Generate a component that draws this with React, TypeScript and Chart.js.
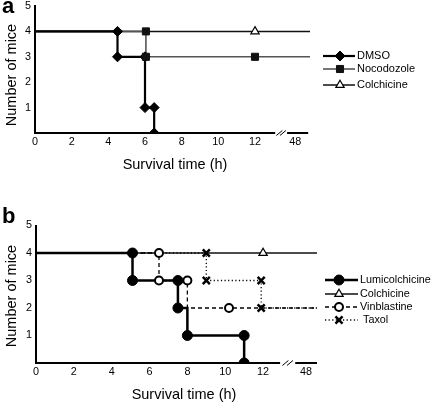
import React, { useEffect, useRef } from 'react';
import { Chart, registerables } from 'chart.js';
import { drawPoint } from 'chart.js/helpers';

Chart.register(...registerables);

const FONT = '"Liberation Sans", Arial, Helvetica, sans-serif';

// end of observation (just beyond 48 h, past the axis break)
const END = 50;

// axis ticks
const xTickValues = [0, 2, 4, 6, 8, 10, 12, 48];
const xTickLabels = ['0', '2', '4', '6', '8', '10', '12', '48'];
const yTickValues = [1, 2, 3, 4, 5];
const yTickLabels = ['1', '2', '3', '4', '5'];

// ---------- Panel a ----------
const dmsoTimes = [0, 4.5, 6, 6.5];
const dmsoMice = [4, 3, 1, 0];
const dmsoMarkTimes = [4.5, 4.5, 6, 6, 6.5, 6.5];
const dmsoMarkMice = [4, 3, 3, 1, 1, 0];

const nocoTimes = [0, 6.05, END];
const nocoMice = [4, 3, 3];
const nocoMarkTimes = [6.05, 6.05, 12];
const nocoMarkMice = [4, 3, 3];

const colchATimes = [0, END];
const colchAMice = [4, 4];
const colchAMarkTimes = [12];
const colchAMarkMice = [4];

// ---------- Panel b ----------
const lumiTimes = [0, 5.1, 7.5, 8, 11];
const lumiMice = [4, 3, 2, 1, 0];
const lumiMarkTimes = [5.1, 5.1, 7.5, 7.5, 8, 11, 11];
const lumiMarkMice = [4, 3, 3, 2, 1, 1, 0];

const colchBTimes = [0, END];
const colchBMice = [4, 4];
const colchBMarkTimes = [12];
const colchBMarkMice = [4];

const vinTimes = [0, 6.5, 8, END];
const vinMice = [4, 3, 2, 2];
const vinMarkTimes = [6.5, 6.5, 8, 10.2];
const vinMarkMice = [4, 3, 3, 2];

const taxTimes = [0, 9, 11.9, END];
const taxMice = [4, 3, 2, 2];
const taxMarkTimes = [9, 9, 11.9, 11.9];
const taxMarkMice = [4, 3, 3, 2];

type Pt = { x: number; y: number };

function makeMapX(pos48: number, xMax: number) {
  return (t: number) => (t <= 13 ? t : pos48 + ((t - 48) / (END - 48)) * (xMax - pos48));
}

function stepPoints(times: number[], mice: number[], mapX: (t: number) => number): Pt[] {
  const pts: Pt[] = [{ x: mapX(times[0]), y: mice[0] }];
  for (let i = 1; i < times.length; i++) {
    pts.push({ x: mapX(times[i]), y: mice[i - 1] });
    if (mice[i] !== mice[i - 1]) pts.push({ x: mapX(times[i]), y: mice[i] });
  }
  return pts;
}

function markPoints(times: number[], mice: number[], mapX: (t: number) => number): Pt[] {
  return times.map((t, i) => ({ x: mapX(t), y: mice[i] }));
}

type MarkerStyle = {
  pointStyle: string;
  radius: number;
  fill: string;
  stroke: string;
  borderWidth: number;
};

type LineStyle = { color: string; width: number; dash: number[] };

function lineDS(points: Pt[], ls: LineStyle, order: number) {
  return {
    data: points,
    showLine: true,
    borderColor: ls.color,
    borderWidth: ls.width,
    borderDash: ls.dash,
    borderCapStyle: 'butt',
    pointRadius: 0,
    pointHoverRadius: 0,
    fill: false,
    tension: 0,
    order,
  };
}

function markerDS(points: Pt[], ms: MarkerStyle) {
  return {
    data: points,
    showLine: false,
    pointStyle: ms.pointStyle,
    pointRadius: ms.radius,
    pointHoverRadius: ms.radius,
    pointBackgroundColor: ms.fill,
    pointBorderColor: ms.stroke,
    pointBorderWidth: ms.borderWidth,
    order: 0,
  };
}

type LegendItem = { label: string; line: LineStyle; marker: MarkerStyle; textDx?: number };

type PanelCfg = {
  width: number;
  height: number;
  areaLeft: number;
  areaRight: number;
  areaTop: number;
  areaBottom: number;
  xMax: number;
  pos48: number;
  breakFrom: number;
  breakTo: number;
  axisEnd: number;
  letter: string;
  letterX: number;
  letterY: number;
  yTitleX: number;
  yTitleY: number;
  xTitleX: number;
  xTitleY: number;
  legendSegX0: number;
  legendSegX1: number;
  legendMarkX: number;
  legendTextX: number;
  legendYs: number[];
  legendFont: number;
  titleFont: number;
  legend: LegendItem[];
  datasets: (mapX: (t: number) => number) => any[];
};

// styles
const sDmsoLine: LineStyle = { color: '#000', width: 2.2, dash: [] };
const sDmsoMark: MarkerStyle = { pointStyle: 'rectRot', radius: 5, fill: '#000', stroke: '#000', borderWidth: 1 };
const sNocoLine: LineStyle = { color: '#555', width: 1.6, dash: [] };
const sNocoMark: MarkerStyle = { pointStyle: 'rect', radius: 5, fill: '#111', stroke: '#111', borderWidth: 1 };
const sColchLine: LineStyle = { color: '#111', width: 1.5, dash: [] };
const sColchMark: MarkerStyle = { pointStyle: 'triangle', radius: 4.8, fill: '#fff', stroke: '#000', borderWidth: 1.2 };
const sLumiLine: LineStyle = { color: '#000', width: 2.5, dash: [] };
const sLumiMark: MarkerStyle = { pointStyle: 'circle', radius: 5, fill: '#000', stroke: '#000', borderWidth: 1 };
const sVinLine: LineStyle = { color: '#000', width: 1.3, dash: [4, 3] };
const sVinMark: MarkerStyle = { pointStyle: 'circle', radius: 4, fill: '#fff', stroke: '#000', borderWidth: 2 };
const sTaxLine: LineStyle = { color: '#000', width: 1.3, dash: [1.2, 2.4] };
const sTaxMark: MarkerStyle = { pointStyle: 'crossRot', radius: 5, fill: '#000', stroke: '#000', borderWidth: 2.5 };

const panelA: PanelCfg = {
  width: 435,
  height: 195,
  areaLeft: 35,
  areaRight: 310,
  areaTop: 5,
  areaBottom: 133,
  xMax: 15,
  pos48: 14.2,
  breakFrom: 13.1,
  breakTo: 13.75,
  axisEnd: 14.9,
  letter: 'a',
  letterX: 2,
  letterY: 13,
  yTitleX: 11.5,
  yTitleY: 75,
  xTitleX: 175,
  xTitleY: 165,
  legendSegX0: 323,
  legendSegX1: 355,
  legendMarkX: 340,
  legendTextX: 357,
  legendYs: [56, 69, 85],
  legendFont: 11,
  titleFont: 14.5,
  legend: [
    { label: 'DMSO', line: sDmsoLine, marker: sDmsoMark },
    { label: 'Nocodozole', line: sNocoLine, marker: sNocoMark },
    { label: 'Colchicine', line: sColchLine, marker: sColchMark },
  ],
  datasets: (mapX) => [
    markerDS(markPoints(nocoMarkTimes, nocoMarkMice, mapX), sNocoMark),
    markerDS(markPoints(dmsoMarkTimes, dmsoMarkMice, mapX), sDmsoMark),
    markerDS(markPoints(colchAMarkTimes, colchAMarkMice, mapX), sColchMark),
    lineDS(stepPoints(dmsoTimes, dmsoMice, mapX), sDmsoLine, 1),
    lineDS(stepPoints(nocoTimes, nocoMice, mapX), sNocoLine, 2),
    lineDS(stepPoints(colchATimes, colchAMice, mapX), sColchLine, 3),
  ],
};

const panelB: PanelCfg = {
  width: 435,
  height: 224,
  areaLeft: 36,
  areaRight: 317,
  areaTop: 30.5,
  areaBottom: 168,
  xMax: 14.85,
  pos48: 14.27,
  breakFrom: 12.9,
  breakTo: 13.7,
  axisEnd: 14.85,
  letter: 'b',
  letterX: 2,
  letterY: 28,
  yTitleX: 11.5,
  yTitleY: 101,
  xTitleX: 184,
  xTitleY: 200,
  legendSegX0: 325,
  legendSegX1: 358,
  legendMarkX: 339,
  legendTextX: 360,
  legendYs: [85, 99, 112, 125],
  legendFont: 10.8,
  titleFont: 14.5,
  legend: [
    { label: 'Lumicolchicine', line: sLumiLine, marker: sLumiMark },
    { label: 'Colchicine', line: sColchLine, marker: sColchMark },
    { label: 'Vinblastine', line: sVinLine, marker: sVinMark },
    { label: 'Taxol', line: sTaxLine, marker: sTaxMark, textDx: 3 },
  ],
  datasets: (mapX) => [
    markerDS(markPoints(lumiMarkTimes, lumiMarkMice, mapX), sLumiMark),
    markerDS(markPoints(vinMarkTimes, vinMarkMice, mapX), sVinMark),
    markerDS(markPoints(taxMarkTimes, taxMarkMice, mapX), sTaxMark),
    markerDS(markPoints(colchBMarkTimes, colchBMarkMice, mapX), sColchMark),
    lineDS(stepPoints(lumiTimes, lumiMice, mapX), sLumiLine, 1),
    lineDS(stepPoints(vinTimes, vinMice, mapX), sVinLine, 2),
    lineDS(stepPoints(taxTimes, taxMice, mapX), sTaxLine, 3),
    lineDS(stepPoints(colchBTimes, colchBMice, mapX), sColchLine, 4),
  ],
};

function drawMarker(ctx: CanvasRenderingContext2D, ms: MarkerStyle, x: number, y: number) {
  ctx.save();
  ctx.fillStyle = ms.fill;
  ctx.strokeStyle = ms.stroke;
  ctx.lineWidth = ms.borderWidth;
  ctx.setLineDash([]);
  drawPoint(ctx, { pointStyle: ms.pointStyle as any, radius: ms.radius, rotation: 0, borderWidth: ms.borderWidth } as any, x, y);
  ctx.restore();
}

function makePlugin(cfg: PanelCfg) {
  return {
    id: 'panelDecor' + cfg.letter,
    afterDraw(chart: any) {
      const ctx: CanvasRenderingContext2D = chart.ctx;
      const xs = chart.scales.x;
      const ys = chart.scales.y;
      const y0 = ys.getPixelForValue(0);
      ctx.save();
      // x axis with break
      ctx.strokeStyle = '#000';
      ctx.lineWidth = 2;
      ctx.setLineDash([]);
      ctx.beginPath();
      ctx.moveTo(xs.getPixelForValue(0) - 1, y0);
      ctx.lineTo(xs.getPixelForValue(cfg.breakFrom), y0);
      ctx.moveTo(xs.getPixelForValue(cfg.breakTo), y0);
      ctx.lineTo(xs.getPixelForValue(cfg.axisEnd), y0);
      ctx.stroke();
      // break marks
      const bA = xs.getPixelForValue(cfg.breakFrom);
      const bB = xs.getPixelForValue(cfg.breakTo);
      const gap = bB - bA;
      ctx.lineWidth = 1;
      ctx.beginPath();
      for (const f of [0.35, 0.65]) {
        const cx = bA + gap * f;
        ctx.moveTo(cx - 3, y0 + 2.5);
        ctx.lineTo(cx + 3, y0 - 2.5);
      }
      ctx.stroke();

      // panel letter
      ctx.fillStyle = '#000';
      ctx.font = `bold 22px ${FONT}`;
      ctx.textAlign = 'left';
      ctx.textBaseline = 'alphabetic';
      ctx.fillText(cfg.letter, cfg.letterX, cfg.letterY);

      // axis titles
      ctx.font = `${cfg.titleFont}px ${FONT}`;
      ctx.textAlign = 'center';
      ctx.textBaseline = 'middle';
      ctx.fillText('Survival time (h)', cfg.xTitleX, cfg.xTitleY);
      ctx.save();
      ctx.translate(cfg.yTitleX, cfg.yTitleY);
      ctx.rotate(-Math.PI / 2);
      ctx.fillText('Number of mice', 0, 0);
      ctx.restore();

      // legend
      cfg.legend.forEach((item, i) => {
        const ly = cfg.legendYs[i];
        ctx.save();
        ctx.strokeStyle = item.line.color;
        ctx.lineWidth = item.line.width;
        ctx.setLineDash(item.line.dash);
        ctx.beginPath();
        ctx.moveTo(cfg.legendSegX0, ly);
        ctx.lineTo(cfg.legendSegX1, ly);
        ctx.stroke();
        ctx.restore();
        drawMarker(ctx, item.marker, cfg.legendMarkX, ly);
        ctx.fillStyle = '#000';
        ctx.font = `${cfg.legendFont}px ${FONT}`;
        ctx.textAlign = 'left';
        ctx.textBaseline = 'middle';
        ctx.fillText(item.label, cfg.legendTextX + (item.textDx || 0), ly);
      });
      ctx.restore();
    },
  };
}

function Panel({ cfg, top }: { cfg: PanelCfg; top: number }) {
  const ref = useRef<HTMLCanvasElement | null>(null);
  useEffect(() => {
    if (!ref.current) return;
    const mapX = makeMapX(cfg.pos48, cfg.xMax);
    const chart = new Chart(ref.current, {
      type: 'scatter',
      data: { datasets: cfg.datasets(mapX) },
      options: {
        animation: false,
        responsive: false,
        maintainAspectRatio: false,
        events: [],
        layout: {
          padding: {
            left: 0,
            right: cfg.width - cfg.areaRight,
            top: cfg.areaTop,
            bottom: cfg.height - cfg.areaBottom - 45,
          },
        },
        plugins: { legend: { display: false }, tooltip: { enabled: false } },
        scales: {
          x: {
            type: 'linear',
            min: 0,
            max: cfg.xMax,
            grid: { display: false, drawTicks: false },
            border: { display: false },
            ticks: {
              autoSkip: false,
              maxRotation: 0,
              minRotation: 0,
              padding: 3,
              color: '#000',
              font: { family: FONT, size: 10.8 },
              callback: (_v: any, i: number) => xTickLabels[i],
            },
            afterBuildTicks: (s: any) => {
              s.ticks = xTickValues.map((v) => ({ value: mapX(v) }));
            },
            afterFit: (s: any) => {
              s.height = 45;
              s.paddingLeft = 0;
              s.paddingRight = 0;
            },
          },
          y: {
            type: 'linear',
            min: 0,
            max: 5,
            grid: { display: false, drawTicks: false },
            border: { display: true, color: '#000', width: 2 },
            ticks: {
              padding: 4,
              color: '#000',
              font: { family: FONT, size: 10.8 },
              callback: (_v: any, i: number) => yTickLabels[i],
            },
            afterBuildTicks: (s: any) => {
              s.ticks = yTickValues.map((v) => ({ value: v }));
            },
            afterFit: (s: any) => {
              s.width = cfg.areaLeft;
              s.paddingTop = 0;
              s.paddingBottom = 0;
            },
          },
        },
      } as any,
      plugins: [makePlugin(cfg)],
    });
    return () => chart.destroy();
  }, [cfg]);
  return (
    <canvas
      ref={ref}
      width={cfg.width}
      height={cfg.height}
      style={{ position: 'absolute', left: 0, top, width: cfg.width, height: cfg.height }}
    />
  );
}

export default function App() {
  return (
    <div style={{ position: 'absolute', left: 0, top: 0, width: 435, height: 419, background: '#fff' }}>
      <Panel cfg={panelA} top={0} />
      <Panel cfg={panelB} top={195} />
    </div>
  );
}
